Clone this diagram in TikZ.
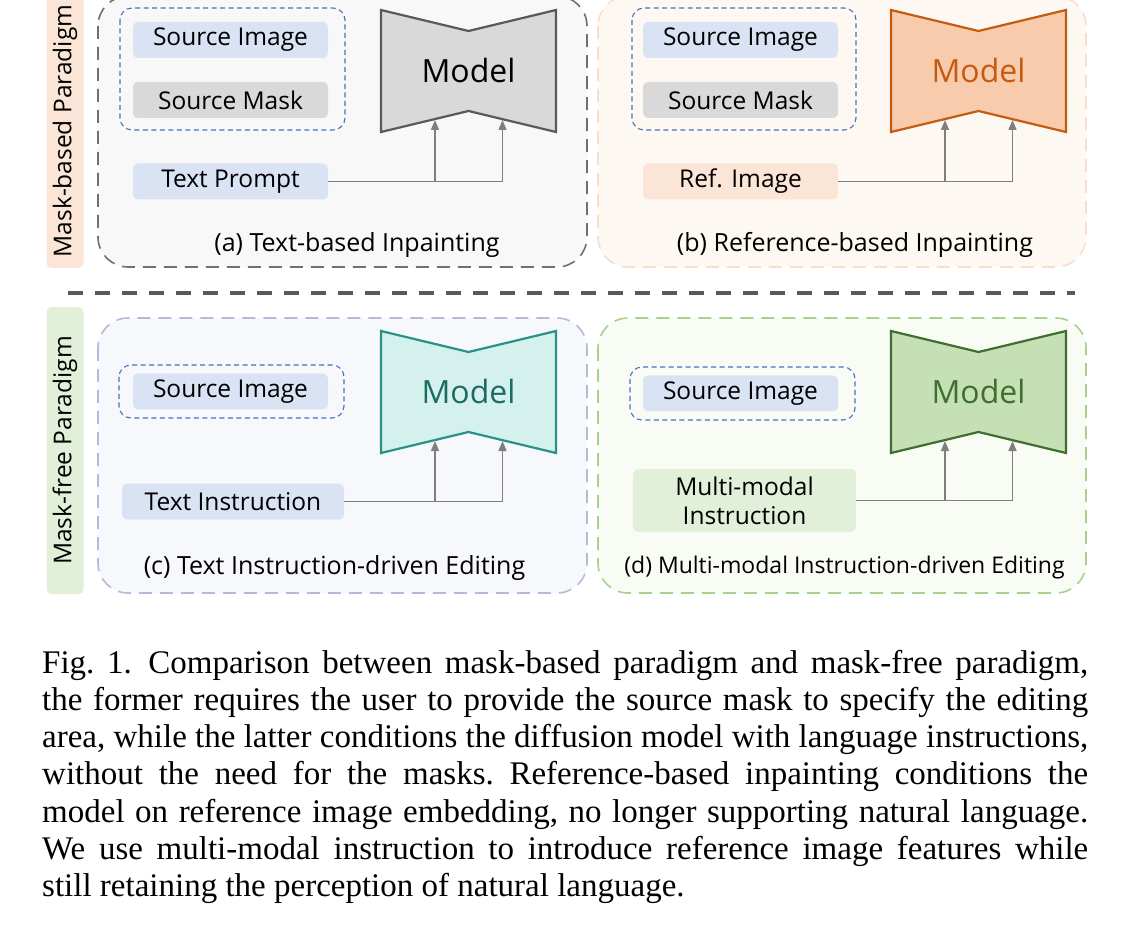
\documentclass[tikz,border=0pt]{standalone}
\usepackage{fontspec}
\setmainfont{Liberation Serif}
\setsansfont{Open Sans}
\usetikzlibrary{arrows.meta,positioning,calc}
\definecolor{sepgray}{RGB}{89,89,89}
\definecolor{arrowgray}{RGB}{127,127,127}
\definecolor{groupblue}{RGB}{68,114,196}
\definecolor{imgblue}{RGB}{218,227,243}
\definecolor{maskgray}{RGB}{217,217,217}
\definecolor{refpeach}{RGB}{251,229,214}
\definecolor{insgreen}{RGB}{226,240,217}
\definecolor{aline}{RGB}{112,112,112}
\definecolor{afill}{RGB}{248,248,248}
\definecolor{bline}{RGB}{250,222,204}
\definecolor{bfill}{RGB}{254,248,243}
\definecolor{cline}{RGB}{180,186,220}
\definecolor{cfill}{RGB}{247,248,252}
\definecolor{dline}{RGB}{169,209,142}
\definecolor{dfill}{RGB}{249,251,245}
\definecolor{modelgray}{RGB}{217,217,217}
\definecolor{modelgrayd}{RGB}{89,89,89}
\definecolor{modelorange}{RGB}{248,203,173}
\definecolor{modeloranged}{RGB}{197,90,17}
\definecolor{modelteal}{RGB}{212,241,238}
\definecolor{modelteald}{RGB}{42,145,135}
\definecolor{modeltealt}{RGB}{30,107,99}
\definecolor{modelgreen}{RGB}{197,224,180}
\definecolor{modelgreend}{RGB}{63,110,47}
% one justified caption line, squeezed a little if it is too long
\newcommand{\capline}[1]{\sbox0{#1}%
  \ifdim\wd0>1040pt \resizebox{1046pt}{\ht0}{#1}\else\makebox[1046pt][s]{#1}\fi}

\begin{document}
\begin{tikzpicture}[x=1pt, y=-1pt,
    panel/.style={rounded corners=30pt, line width=1.6pt, dash pattern=on 13pt off 8pt},
    group/.style={draw=groupblue, rounded corners=12pt, line width=1.1pt, dash pattern=on 5pt off 3.5pt},
    inbox/.style={rounded corners=5pt, minimum width=195pt, minimum height=36pt, inner sep=0pt,
                  font=\sffamily\fontsize{24.5}{29}\selectfont},
    side/.style={rounded corners=5pt, rotate=90, minimum height=37pt, inner sep=0pt,
                 font=\sffamily\fontsize{24.5}{29}\selectfont},
    title/.style={font=\sffamily\fontsize{25}{30}\selectfont},
    modeltext/.style={font=\sffamily\fontsize{32}{38}\selectfont},
    link/.style={draw=arrowgray, line width=1.4pt},
    arrow/.style={link, -{Triangle[length=10pt,width=8pt]}}]

    \useasboundingbox (0,0) rectangle (1130,949);

    % Paradigm labels
    \node[side, fill=refpeach, minimum width=274pt] (mbased) at (65,131) {Mask-based Paradigm};
    \node[side, fill=insgreen, minimum width=287pt] (mfree) at (65,450.5) {Mask-free Paradigm};

    % Panels
    \draw[panel, draw=aline, fill=afill] (98,-4) rectangle (587,267);
    \draw[panel, draw=bline, fill=bfill] (598,-4) rectangle (1086,267);
    \draw[panel, draw=cline, fill=cfill] (98,318) rectangle (587,593);
    \draw[panel, draw=dline, fill=dfill] (598,318) rectangle (1086,593);

    % Separator
    \draw[sepgray, line width=4pt, dash pattern=on 15pt off 12pt] (68,293) -- (1075,293);

    % Inputs
    \draw[group] (120,8) rectangle (345,130);
    \node[inbox, fill=imgblue] (asrc) at (230.5,40) {Source Image};
    \node[inbox, fill=maskgray] (amask) at (230.5,100) {Source Mask};
    \node[inbox, fill=imgblue] (aprompt) at (230.5,181.5) {Text Prompt};

    \draw[group] (632,8) rectangle (856,130);
    \node[inbox, fill=imgblue] (bsrc) at (740.5,40) {Source Image};
    \node[inbox, fill=maskgray] (bmask) at (740.5,100) {Source Mask};
    \node[inbox, fill=refpeach] (bref) at (740.5,181.5) {Ref. Image};

    \draw[group] (119,365) rectangle (344,418);
    \node[inbox, fill=imgblue] (csrc) at (230.5,391.5) {Source Image};
    \node[inbox, fill=imgblue, minimum width=222pt] (cins) at (233,501.5) {Text Instruction};

    \draw[group] (630,367) rectangle (855,420);
    \node[inbox, fill=imgblue] (dsrc) at (740.5,393.5) {Source Image};
    \node[inbox, fill=insgreen, minimum width=223pt, minimum height=63pt, align=center]
        (dins) at (744.5,500.5) {Multi-modal\\Instruction};

    % Models
    \foreach \n/\x/\y/\fc/\dc/\tc in {a/381/10/modelgray/modelgrayd/black,
                                      b/891/10/modelorange/modeloranged/modeloranged,
                                      c/381/331/modelteal/modelteald/modeltealt,
                                      d/891/331/modelgreen/modelgreend/modelgreend} {
        \draw[fill=\fc, draw=\dc, line width=2.2pt, line join=miter]
            (\x,\y) -- ++(87.5,21) -- ++(87.5,-21) -- ++(0,122)
            -- ++(-87.5,-21) -- ++(-87.5,21) -- cycle;
        \node[modeltext, text=\tc] (m\n) at (\x+87.5,\y+61) {Model};
        \coordinate (m\n-l) at (\x+54,\y+110);
        \coordinate (m\n-r) at (\x+121.5,\y+110);
    }

    % Connections
    \draw[arrow] (aprompt.east) -| (ma-r);
    \draw[arrow] (aprompt.east -| ma-l) -- (ma-l);
    \draw[arrow] (bref.east) -| (mb-r);
    \draw[arrow] (bref.east -| mb-l) -- (mb-l);
    \draw[arrow] (cins.east) -| (mc-r);
    \draw[arrow] (cins.east -| mc-l) -- (mc-l);
    \draw[arrow] (dins.east) -| (md-r);
    \draw[arrow] (dins.east -| md-l) -- (md-l);

    % Titles
    \node[title] (ta) at (357,245) {(a) Text-based Inpainting};
    \node[title] (tb) at (855,245) {(b) Reference-based Inpainting};
    \node[title] (tc) at (334.5,568) {(c) Text Instruction-driven Editing};
    \node[title, font=\sffamily\fontsize{23}{28}\selectfont] (td) at (844.5,568)
        {(d) Multi-modal Instruction-driven Editing};

    % Caption
    \node[anchor=base west, inner sep=0pt, text width=1046pt, align=justify,
          font=\fontsize{33}{37.3}\selectfont] (caption) at (42,673)
        {\frenchspacing
         \capline{Fig. 1.\enspace Comparison between mask-based paradigm and mask-free paradigm,}\\
         \capline{the former requires the user to provide the source mask to specify the editing}\\
         \capline{area, while the latter conditions the diffusion model with language instructions,}\\
         \capline{without the need for the masks. Reference-based inpainting conditions the}\\
         \capline{model on reference image embedding, no longer supporting natural language.}\\
         \capline{We use multi-modal instruction to introduce reference image features while}\\
         still retaining the perception of natural language.};

\end{tikzpicture}
\end{document}
